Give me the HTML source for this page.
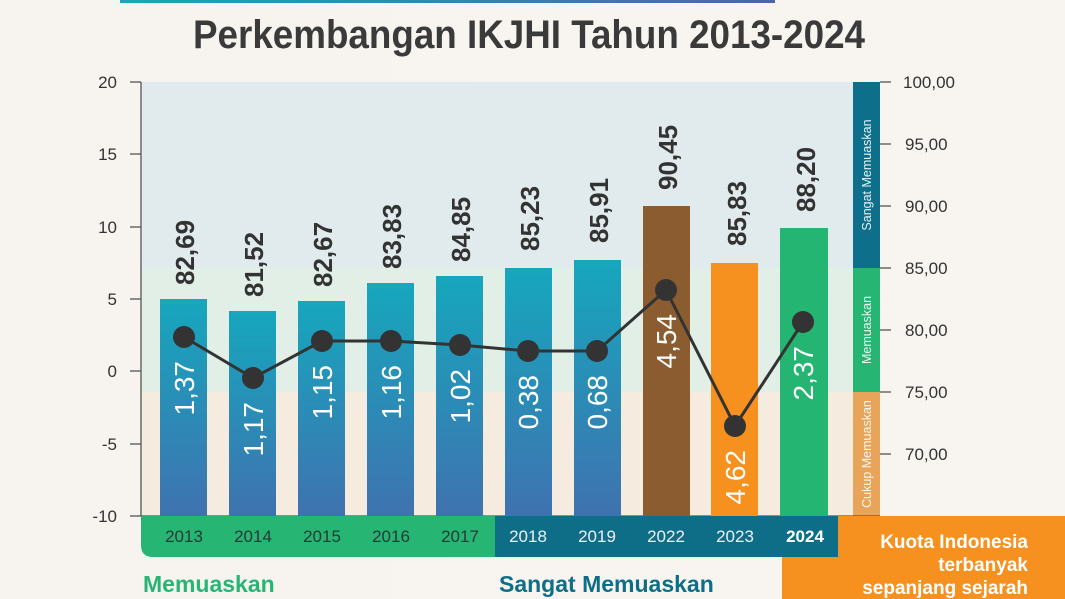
<!DOCTYPE html>
<html><head><meta charset="utf-8"><style>
html,body{margin:0;padding:0;background:#f6f3ee;}
svg{display:block;font-family:"Liberation Sans",sans-serif;}
</style></head><body>
<svg width="1065" height="599" viewBox="0 0 1065 599" xmlns="http://www.w3.org/2000/svg">
<defs>
<linearGradient id="topbar" x1="0" x2="1"><stop offset="0" stop-color="#18a7b8"/><stop offset="1" stop-color="#4c66a8"/></linearGradient>
<linearGradient id="bar" x1="0" y1="0" x2="0" y2="1"><stop offset="0" stop-color="#16a7bd"/><stop offset="1" stop-color="#3f72b0"/></linearGradient>
<linearGradient id="bg" x1="0" x2="1"><stop offset="0" stop-color="#f7f4ef"/><stop offset="1" stop-color="#f8f5f0"/></linearGradient>
</defs>
<rect width="1065" height="599" fill="url(#bg)"/>
<rect x="120" y="0" width="655" height="3" fill="url(#topbar)"/>
<text x="193" y="48" font-size="40" font-weight="bold" fill="#3a3a3a" textLength="672" lengthAdjust="spacingAndGlyphs">Perkembangan IKJHI Tahun 2013-2024</text>

<!-- bands -->
<rect x="141" y="82" width="712" height="186" fill="#e1ebed"/>
<rect x="141" y="268" width="712" height="124" fill="#e1efe7"/>
<rect x="141" y="392" width="712" height="124" fill="#f6ebdf"/>
<rect x="853" y="82" width="27" height="186" fill="#0e6f8a"/>
<rect x="853" y="268" width="27" height="124" fill="#27b574"/>
<rect x="853" y="392" width="27" height="124" fill="#e8a458"/>
<g fill="#fff" font-size="12.5" opacity="0.9">
<text transform="translate(871 175) rotate(-90)" text-anchor="middle">Sangat Memuaskan</text>
<text transform="translate(871 330) rotate(-90)" text-anchor="middle">Memuaskan</text>
<text transform="translate(871 454) rotate(-90)" text-anchor="middle">Cukup Memuaskan</text>
</g>

<!-- axes -->
<g stroke="#555" stroke-width="1.3">
<line x1="141" y1="82" x2="141" y2="516"/>
<line x1="141" y1="516" x2="880" y2="516"/>
<line x1="130" y1="82" x2="141" y2="82"/><line x1="130" y1="154" x2="141" y2="154"/><line x1="130" y1="227" x2="141" y2="227"/><line x1="130" y1="299" x2="141" y2="299"/><line x1="130" y1="371" x2="141" y2="371"/><line x1="130" y1="444" x2="141" y2="444"/><line x1="130" y1="516" x2="141" y2="516"/>
<line x1="880" y1="82" x2="891" y2="82"/><line x1="880" y1="144" x2="891" y2="144"/><line x1="880" y1="206" x2="891" y2="206"/><line x1="880" y1="268" x2="891" y2="268"/><line x1="880" y1="330" x2="891" y2="330"/><line x1="880" y1="392" x2="891" y2="392"/><line x1="880" y1="454" x2="891" y2="454"/>
</g>
<g font-size="17" fill="#333" text-anchor="end">
<text x="117" y="88">20</text><text x="117" y="160">15</text><text x="117" y="233">10</text><text x="117" y="305">5</text><text x="117" y="377">0</text><text x="117" y="450">-5</text><text x="117" y="522">-10</text>
</g>
<g font-size="17" fill="#333">
<text x="903" y="88">100,00</text><text x="905" y="150">95,00</text><text x="905" y="212">90,00</text><text x="905" y="274">85,00</text><text x="905" y="336">80,00</text><text x="905" y="398">75,00</text><text x="905" y="460">70,00</text>
</g>

<!-- bars -->
<rect x="160" y="299" width="47" height="217" fill="url(#bar)"/>
<rect x="229" y="311" width="47" height="205" fill="url(#bar)"/>
<rect x="298" y="301" width="47" height="215" fill="url(#bar)"/>
<rect x="367" y="283" width="47" height="233" fill="url(#bar)"/>
<rect x="436" y="276" width="47" height="240" fill="url(#bar)"/>
<rect x="505" y="268" width="47" height="248" fill="url(#bar)"/>
<rect x="574" y="260" width="47" height="256" fill="url(#bar)"/>
<rect x="643" y="206" width="47" height="310" fill="#8a5c30"/>
<rect x="711" y="263" width="47" height="253" fill="#f6901e"/>
<rect x="780" y="228" width="48" height="288" fill="#25b573"/>

<!-- top labels -->
<g font-size="26" font-weight="bold" fill="#333">
<text transform="translate(194 285) rotate(-90)">82,69</text>
<text transform="translate(263 297) rotate(-90)">81,52</text>
<text transform="translate(332 287) rotate(-90)">82,67</text>
<text transform="translate(401 269) rotate(-90)">83,83</text>
<text transform="translate(470 262) rotate(-90)">84,85</text>
<text transform="translate(539 251) rotate(-90)">85,23</text>
<text transform="translate(608 243) rotate(-90)">85,91</text>
<text transform="translate(677 190) rotate(-90)">90,45</text>
<text transform="translate(746 246) rotate(-90)">85,83</text>
<text transform="translate(815 212) rotate(-90)">88,20</text>
</g>

<!-- line -->
<polyline points="184,337 253,378 322,341 391,341 460,345 528,351 597,351 666,290 735,426 803,322" fill="none" stroke="#333" stroke-width="3"/>
<g fill="#333">
<circle cx="184" cy="337" r="11"/><circle cx="253" cy="378" r="11"/><circle cx="322" cy="341" r="11"/><circle cx="391" cy="341" r="11"/><circle cx="460" cy="345" r="11"/><circle cx="528" cy="351" r="11"/><circle cx="597" cy="351" r="11"/><circle cx="666" cy="290" r="11"/><circle cx="735" cy="426" r="11"/><circle cx="803" cy="322" r="11"/>
</g>

<!-- lower labels -->
<g font-size="28" fill="#fff" text-anchor="end">
<text transform="translate(194 361) rotate(-90)">1,37</text>
<text transform="translate(263 402) rotate(-90)">1,17</text>
<text transform="translate(332 365) rotate(-90)">1,15</text>
<text transform="translate(401 365) rotate(-90)">1,16</text>
<text transform="translate(470 369) rotate(-90)">1,02</text>
<text transform="translate(538 375) rotate(-90)">0,38</text>
<text transform="translate(607 375) rotate(-90)">0,68</text>
<text transform="translate(676 314) rotate(-90)">4,54</text>
<text transform="translate(745 450) rotate(-90)">4,62</text>
<text transform="translate(813 346) rotate(-90)">2,37</text>
</g>

<!-- x label band -->
<path d="M141 516 H495 V557 H153 Q141 557 141 545 Z" fill="#27b574"/>
<rect x="495" y="516" width="343" height="41" fill="#0f6e87"/>
<path d="M838 516 H1065 V599 H782 V557 H838 Z" fill="#f6901e"/>
<g font-size="17" text-anchor="middle">
<g fill="#1f3b34"><text x="184" y="542">2013</text><text x="253" y="542">2014</text><text x="322" y="542">2015</text><text x="391" y="542">2016</text><text x="460" y="542">2017</text></g>
<g fill="#e8f2f5"><text x="528" y="542">2018</text><text x="597" y="542">2019</text><text x="666" y="542">2022</text><text x="735" y="542">2023</text><text x="805" y="542" font-weight="bold" fill="#fff">2024</text></g>
</g>
<g font-size="19" font-weight="bold" fill="#fff" text-anchor="end">
<text x="1028" y="548">Kuota Indonesia</text>
<text x="1028" y="571">terbanyak</text>
<text x="1028" y="594">sepanjang sejarah</text>
</g>
<text x="143" y="592" font-size="23" font-weight="bold" fill="#27b574">Memuaskan</text>
<text x="499" y="592" font-size="23" font-weight="bold" fill="#0f6e87">Sangat Memuaskan</text>
</svg>
</body></html>
